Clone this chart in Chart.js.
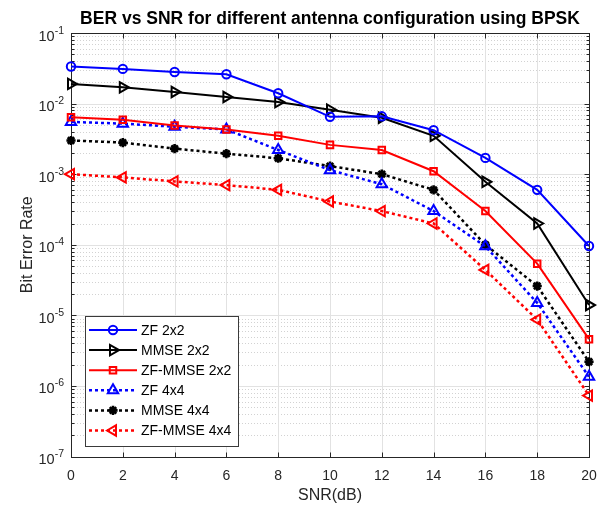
<!DOCTYPE html>
<html><head><meta charset="utf-8">
<script src="https://cdn.jsdelivr.net/npm/chart.js@4/dist/chart.umd.min.js"></script>
<style>html,body{margin:0;padding:0;background:#fff;}canvas{display:block;}</style>
</head><body>
<canvas id="c" width="597" height="509" style="width:597px;height:509px"></canvas>
<script>
// ---- data ----
const snr = [0, 2, 4, 6, 8, 10, 12, 14, 16, 18, 20];
const zf2x2 = [0.0335, 0.031, 0.028, 0.026, 0.014, 0.0065, 0.0066, 0.0042, 0.0017, 0.0006, 9.6e-5];
const mmse2x2 = [0.019, 0.017, 0.0146, 0.0124, 0.0105, 0.0082, 0.0063, 0.0035, 0.00078, 0.0002, 1.4e-5];
const zfmmse2x2 = [0.0064, 0.0059, 0.0049, 0.0043, 0.0035, 0.0026, 0.0022, 0.0011, 0.0003, 5.4e-5, 4.6e-6];
const zf4x4 = [0.0055, 0.0052, 0.0047, 0.0043, 0.0022, 0.00114, 0.00072, 0.0003, 9.5e-5, 1.5e-5, 1.35e-6];
const mmse4x4 = [0.003, 0.0028, 0.0023, 0.00195, 0.00168, 0.0013, 0.001, 0.0006, 0.0001, 2.6e-5, 2.2e-6];
const zfmmse4x4 = [0.001, 0.0009, 0.00079, 0.0007, 0.0006, 0.00041, 0.0003, 0.0002, 4.4e-5, 8.7e-6, 7.3e-7];
const seriesNames = ['ZF 2x2', 'MMSE 2x2', 'ZF-MMSE 2x2', 'ZF 4x4', 'MMSE 4x4', 'ZF-MMSE 4x4'];
const xTickValues = [0, 2, 4, 6, 8, 10, 12, 14, 16, 18, 20];
const xTickLabels = ['0', '2', '4', '6', '8', '10', '12', '14', '16', '18', '20'];
const yTickExponents = [-7, -6, -5, -4, -3, -2, -1];
const titleText = 'BER vs SNR for different antenna configuration using BPSK';
const xTitleText = 'SNR(dB)';
const yTitleText = 'Bit Error Rate';

// ---- styles ----
const FONT = '"Liberation Sans", Arial, Helvetica, sans-serif';
const styles = [
  {color: '#0000ff', dash: [], lw: 2, ps: 'circle', rot: 0, r: 4.2, fill: 'rgba(0,0,0,0)', plw: 2},
  {color: '#000000', dash: [], lw: 2, ps: 'triangle', rot: 90, r: 6, fill: 'rgba(0,0,0,0)', plw: 2},
  {color: '#ff0000', dash: [], lw: 2, ps: 'rect', rot: 0, r: 4.6, fill: 'rgba(0,0,0,0)', plw: 2},
  {color: '#0000ff', dash: [3, 3], lw: 2.5, ps: 'triangle', rot: 0, r: 6, fill: 'rgba(0,0,0,0)', plw: 2},
  {color: '#000000', dash: [3, 3], lw: 2.5, ps: 'star', rot: 0, r: 4.6, fill: '#000000', plw: 2.6},
  {color: '#ff0000', dash: [3, 3], lw: 2.5, ps: 'triangle', rot: -90, r: 6, fill: 'rgba(0,0,0,0)', plw: 2}
];
const seriesValues = [zf2x2, mmse2x2, zfmmse2x2, zf4x4, mmse4x4, zfmmse4x4];

const datasets = seriesValues.map((vals, i) => {
  const s = styles[i];
  return {
    label: seriesNames[i],
    data: snr.map((x, k) => ({x: x, y: vals[k]})),
    borderColor: s.color,
    borderWidth: s.lw,
    borderDash: s.dash,
    backgroundColor: s.fill,
    pointStyle: s.ps,
    pointRotation: s.rot,
    pointRadius: s.r,
    pointBorderWidth: s.plw,
    pointBorderColor: s.color,
    pointBackgroundColor: s.fill,
    tension: 0,
    fill: false,
    clip: false
  };
});

function drawMarker(ctx, s, x, y) {
  ctx.save();
  ctx.strokeStyle = s.color; ctx.lineWidth = s.plw; ctx.setLineDash([]); ctx.fillStyle = s.fill;
  ctx.beginPath();
  const r = s.r;
  if (s.ps === 'circle') { ctx.arc(x, y, r, 0, 2 * Math.PI); }
  else if (s.ps === 'rect') { const h = r * Math.SQRT1_2; ctx.rect(x - h, y - h, 2 * h, 2 * h); }
  else if (s.ps === 'triangle') {
    let a = s.rot * Math.PI / 180;
    ctx.moveTo(x + Math.sin(a) * r, y - Math.cos(a) * r);
    a += 2 * Math.PI / 3; ctx.lineTo(x + Math.sin(a) * r, y - Math.cos(a) * r);
    a += 2 * Math.PI / 3; ctx.lineTo(x + Math.sin(a) * r, y - Math.cos(a) * r);
    ctx.closePath();
  } else if (s.ps === 'star') {
    for (let k = 0; k < 4; k++) {
      const a = k * Math.PI / 4;
      ctx.moveTo(x + Math.cos(a) * r, y + Math.sin(a) * r);
      ctx.lineTo(x - Math.cos(a) * r, y - Math.sin(a) * r);
    }
  }
  if (s.ps !== 'star') ctx.fill();
  ctx.stroke();
  ctx.restore();
}

const crisp = v => Math.round(v) + 0.5;

const framePlugin = {
  id: 'frame',
  beforeDatasetsDraw(chart) {
    const ctx = chart.ctx;
    const {left, right, top, bottom} = chart.chartArea;
    const xs = chart.scales.x, ys = chart.scales.y;
    ctx.save();
    ctx.fillStyle = '#ffffff';
    ctx.fillRect(left, top, right - left, bottom - top);
    // minor y grid (dotted)
    ctx.lineWidth = 1;
    ctx.strokeStyle = '#d2d2d2';
    ctx.setLineDash([1, 2]);
    for (let e = yTickExponents[0]; e < yTickExponents[yTickExponents.length - 1]; e++) {
      for (let m = 2; m <= 9; m++) {
        const y = crisp(ys.getPixelForValue(m * Math.pow(10, e)));
        ctx.beginPath(); ctx.moveTo(left, y); ctx.lineTo(right, y); ctx.stroke();
      }
    }
    // major grid
    ctx.setLineDash([]);
    ctx.strokeStyle = '#e2e2e2';
    yTickExponents.slice(1, -1).forEach(e => {
      const y = crisp(ys.getPixelForValue(Math.pow(10, e)));
      ctx.beginPath(); ctx.moveTo(left, y); ctx.lineTo(right, y); ctx.stroke();
    });
    xTickValues.slice(1, -1).forEach(v => {
      const x = crisp(xs.getPixelForValue(v));
      ctx.beginPath(); ctx.moveTo(x, top); ctx.lineTo(x, bottom); ctx.stroke();
    });
    // box
    ctx.strokeStyle = '#262626';
    ctx.lineWidth = 1;
    const L = crisp(left), R = crisp(right), T = crisp(top), B = crisp(bottom);
    ctx.strokeRect(L, T, R - L, B - T);
    // ticks
    ctx.beginPath();
    xTickValues.forEach(v => {
      const x = crisp(xs.getPixelForValue(v));
      ctx.moveTo(x, B); ctx.lineTo(x, B - 5);
      ctx.moveTo(x, T); ctx.lineTo(x, T + 5);
    });
    yTickExponents.forEach(e => {
      const y = crisp(ys.getPixelForValue(Math.pow(10, e)));
      ctx.moveTo(L, y); ctx.lineTo(L + 5, y);
      ctx.moveTo(R, y); ctx.lineTo(R - 5, y);
    });
    for (let e = yTickExponents[0]; e < yTickExponents[yTickExponents.length - 1]; e++) {
      for (let m = 2; m <= 9; m++) {
        const y = crisp(ys.getPixelForValue(m * Math.pow(10, e)));
        ctx.moveTo(L, y); ctx.lineTo(L + 3, y);
        ctx.moveTo(R, y); ctx.lineTo(R - 3, y);
      }
    }
    ctx.stroke();
    // tick labels
    ctx.fillStyle = '#262626';
    ctx.font = '14px ' + FONT;
    ctx.textAlign = 'center'; ctx.textBaseline = 'alphabetic';
    xTickValues.forEach((v, i) => {
      ctx.fillText(xTickLabels[i], xs.getPixelForValue(v), bottom + 23);
    });
    yTickExponents.forEach(e => {
      const y = ys.getPixelForValue(Math.pow(10, e));
      const sup = String(e);
      ctx.font = '10.5px ' + FONT;
      const sw = ctx.measureText(sup).width;
      const rEdge = left - 7;
      ctx.textAlign = 'left';
      ctx.fillText(sup, rEdge - sw, y + 0.5);
      ctx.font = '14.5px ' + FONT;
      ctx.textAlign = 'right';
      ctx.fillText('10', rEdge - sw, y + 7.5);
    });
    // axis titles
    ctx.font = '16px ' + FONT;
    ctx.textAlign = 'center';
    ctx.fillText(xTitleText, (left + right) / 2, 500);
    ctx.save();
    ctx.translate(32, (top + bottom) / 2);
    ctx.rotate(-Math.PI / 2);
    ctx.fillText(yTitleText, 0, 0);
    ctx.restore();
    // title
    ctx.fillStyle = '#000000';
    ctx.font = 'bold 17.5px ' + FONT;
    ctx.fillText(titleText, (left + right) / 2, 24);
    ctx.restore();
  },
  afterDatasetsDraw(chart) {
    const ctx = chart.ctx;
    ctx.save();
    // legend box
    const bx = 85, by = 316, bw = 153, bh = 130;
    ctx.fillStyle = '#ffffff';
    ctx.fillRect(bx, by, bw, bh);
    ctx.strokeStyle = '#3a3a3a';
    ctx.lineWidth = 1;
    ctx.strokeRect(bx + 0.5, by + 0.5, bw, bh);
    ctx.font = '14px ' + FONT;
    ctx.textAlign = 'left'; ctx.textBaseline = 'middle';
    seriesNames.forEach((name, i) => {
      const s = styles[i];
      const y = 330 + i * 20.1;
      ctx.strokeStyle = s.color; ctx.lineWidth = s.lw; ctx.setLineDash(s.dash);
      ctx.beginPath(); ctx.moveTo(89, y); ctx.lineTo(137, y); ctx.stroke();
      drawMarker(ctx, s, 113, y);
      ctx.fillStyle = '#000000';
      ctx.fillText(name, 141, y + 1);
    });
    ctx.restore();
  }
};

new Chart(document.getElementById('c'), {
  type: 'line',
  data: {datasets},
  options: {
    responsive: false,
    animation: false,
    events: [],
    layout: {padding: {top: 33, right: 8, left: 0, bottom: 0}},
    plugins: {legend: {display: false}, title: {display: false}, tooltip: {enabled: false}},
    scales: {
      x: {type: 'linear', min: 0, max: 20, ticks: {display: false, stepSize: 2},
          grid: {display: false}, border: {display: false},
          afterFit(s) { s.height = 52.5; }},
      y: {type: 'logarithmic', min: 1e-7, max: 1e-1, ticks: {display: false},
          grid: {display: false}, border: {display: false},
          afterFit(s) { s.width = 71; }}
    }
  },
  plugins: [framePlugin]
});
</script>
</body></html>
